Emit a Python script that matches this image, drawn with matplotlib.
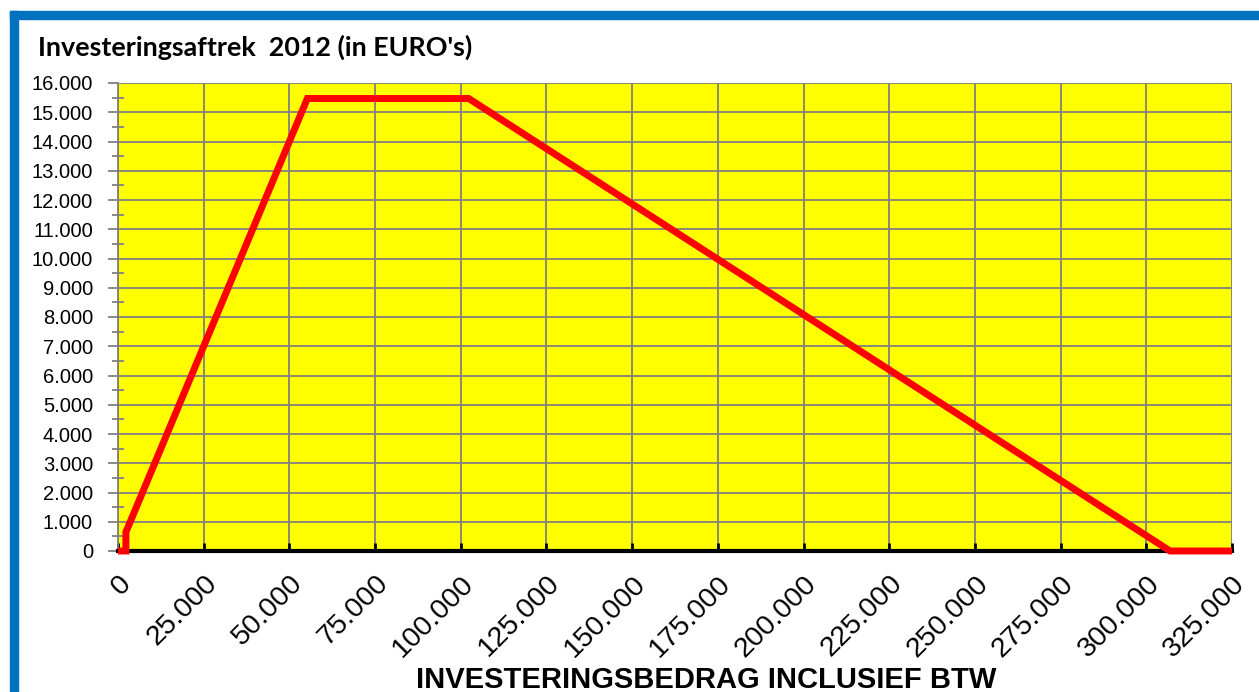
import matplotlib.pyplot as plt
from matplotlib.ticker import MultipleLocator, FuncFormatter
from matplotlib.patches import Rectangle

# investeringsbedrag (EUR) en bijbehorende aftrek (EUR)
bedrag = [0, 2300, 2300, 55248, 102311, 306931, 325000]
aftrek = [0, 0, 644, 15470, 15470, 0, 0]

x_ticks = [0, 25000, 50000, 75000, 100000, 125000, 150000, 175000,
           200000, 225000, 250000, 275000, 300000, 325000]
y_ticks = list(range(0, 16001, 1000))


def nl_fmt(v, pos=None):
    return f"{int(v):,}".replace(",", ".")


fig = plt.figure(figsize=(12.59, 6.92), dpi=100)
ax = fig.add_axes([118 / 1259, 1 - 551 / 692, (1232 - 118) / 1259, (551 - 83) / 692])

# blauwe rand links en boven
fig.patches.append(Rectangle((10 / 1259, 0), 8 / 1259, 1 - 11 / 692,
                             transform=fig.transFigure, color='#0070C0', zorder=0))
fig.patches.append(Rectangle((10 / 1259, 1 - 19 / 692), 1 - 10 / 1259, 8 / 692,
                             transform=fig.transFigure, color='#0070C0', zorder=0))

ax.set_facecolor('#FFFF00')
ax.plot(bedrag, aftrek, color='#FF0000', lw=5, solid_joinstyle='miter',
        solid_capstyle='butt', zorder=3, clip_on=False)

ax.set_xlim(0, 325000)
ax.set_ylim(0, 16000)
ax.set_xticks(x_ticks)
ax.set_yticks(y_ticks)
ax.yaxis.set_minor_locator(MultipleLocator(500))
ax.xaxis.set_major_formatter(FuncFormatter(nl_fmt))
ax.yaxis.set_major_formatter(FuncFormatter(nl_fmt))

ax.grid(True, which='major', color='#808080', lw=1.3)
ax.set_axisbelow(True)

for s in ['top', 'right']:
    ax.spines[s].set_visible(False)
ax.spines['left'].set_color('#808080')
ax.spines['left'].set_linewidth(1.3)
ax.spines['bottom'].set_color('black')
ax.spines['bottom'].set_linewidth(3)
ax.spines['bottom'].set_zorder(2.5)

ax.tick_params(axis='y', which='major', direction='out', length=7, width=1.3,
               color='#808080', labelsize=14.5, pad=11)
ax.tick_params(axis='y', which='minor', direction='inout', length=9, width=1.3,
               color='#808080')
ax.tick_params(axis='x', which='major', direction='in', length=6, width=2,
               color='black', labelsize=20.5, pad=14)
for lab in ax.get_xticklabels():
    lab.set_fontfamily('Liberation Sans')
    lab.set_rotation(45)
    lab.set_ha('right')
    lab.set_va('top')
    lab.set_rotation_mode('anchor')
for lab in ax.get_yticklabels():
    lab.set_fontfamily('Liberation Sans')

fig.text(38 / 1259, 1 - 47 / 692, "Investeringsaftrek  2012 (in EURO's)",
         fontsize=19.4, fontweight='bold', family='Lato', ha='left', va='center')
fig.text(706 / 1259, 1 - 680 / 692, "INVESTERINGSBEDRAG INCLUSIEF BTW",
         fontsize=21, fontweight='bold', family='Liberation Sans', ha='center', va='center')

fig.savefig('out.png', dpi=100)
